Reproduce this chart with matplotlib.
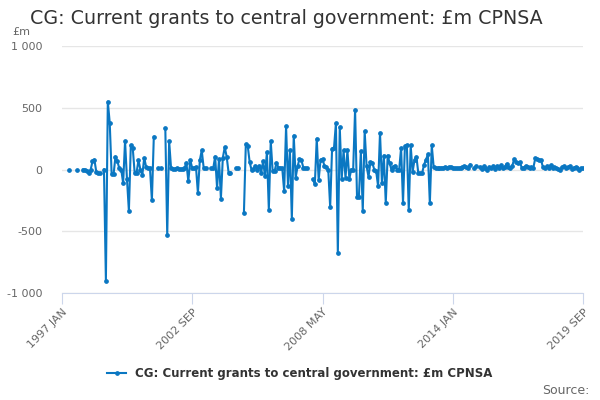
import numpy as np
import matplotlib
matplotlib.use("Agg")
import matplotlib.pyplot as plt
from matplotlib.lines import Line2D

nan = np.nan

# monthly values, 1997 JAN .. 2019 SEP (gaps are missing months)
values = [
    nan, nan, nan, nan, 0, nan, nan, nan, 0, nan,          # 1997
    nan, 0, 0, -10, -30, -5, 65, 80, -20, -25,
    -30, nan, 0, -900, 550, 380, -40, -40, 105, 65,
    10, 0, -110, 230, -80, -335, 195, 175, -25, -25,
    75, 0, -45, 95, 20, 15, 10, -250, 265, nan,
    10, nan, 10, nan, 335, -530, 230, 10, 5, 5,
    10, 5, 5, 5, 10, 55, -95, 75, 15, 10,
    20, -190, 75, 155, 15, 10, nan, nan, 10, 10,
    105, -150, 85, -235, 95, 180, 105, -25, -25, nan,
    nan, 10, 10, nan, nan, -355, 205, 190, 60, -5,
    5, 30, 0, 30, -25, 65, -50, 140, -325, 230,
    -15, -15, 55, 15, 15, 10, -175, 350, -130, 155,
    -400, 275, -65, 25, 85, 75, 15, 10, 10, nan,
    nan, -80, -120, 250, -85, 80, 85, 30, 20, 0,
    -305, 170, 175, 375, -680, 345, -80, 155, -70, 155,
    -75, 0, 0, 485, -220, -220, 148, -337, 310, 27,
    -60, 60, 54, 0, -14, -135, 297, -108, 113, -270,
    113, 54, -5, 22, 32, 0, 0, 175, -270, 190,
    197, -330, 195, -22, 80, 103, -32, -32, -27, 40,
    80, 122, -275, 195, 20, 15, 10, 12, 15, 15,
    18, 15, 20, 22, 15, 12, 10, 10, 15, 18,
    25, 20, 15, 40, nan, 10, 25, nan, 20, 5,
    25, 10, 0, 20, 10, 30, 5, 25, 15, 35,
    10, 20, 45, 20, 10, 30, 85, 60, 55, 60,
    10, 15, 30, 20, 10, 20, 15, 90, 85, 80,
    75, 20, 15, 25, 10, 35, 15, 20, 10, 5,
    0, 20, 25, 15, 20, 25, 5, 15, 20, 10,
    0, 10, 10,
]

tick_pos = [0, 68, 136, 204, 272]
tick_labels = ["1997 JAN", "2002 SEP", "2008 MAY", "2014 JAN", "2019 SEP"]
y_ticks = [-1000, -500, 0, 500, 1000]
y_labels = ["-1 000", "-500", "0", "500", "1 000"]

series_name = "CG: Current grants to central government: £m CPNSA"
blue = "#0a77c2"

fig = plt.figure(figsize=(6, 4), dpi=100)
ax = fig.add_axes([0.103, 0.2675, 0.869, 0.6175])

x = np.arange(len(values))
ax.plot(x, values, color=blue, lw=1.5, marker="o", ms=2.4, zorder=3)

ax.set_xlim(0, 272)
ax.set_ylim(-1000, 1000)
ax.set_yticks(y_ticks)
ax.set_yticklabels(y_labels)
ax.set_xticks(tick_pos)
ax.set_xticklabels(tick_labels, rotation=45, ha="right", rotation_mode="anchor")

ax.grid(axis="y", color="#e6e6e6", lw=1)
ax.set_axisbelow(True)
for s in ["top", "right", "left"]:
    ax.spines[s].set_visible(False)
ax.spines["bottom"].set_color("#ccd6eb")
ax.tick_params(axis="y", length=0, labelsize=8, labelcolor="#666666", pad=14)
ax.tick_params(axis="x", length=8, color="#ccd6eb", labelsize=8, labelcolor="#666666", pad=2)

fig.text(0.05, 0.955, series_name, fontsize=13.7, color="#333333", va="center")
fig.text(0.02, 0.92, "£m", fontsize=8, color="#666666", va="center")

handle = Line2D([], [], color=blue, lw=1.5, marker="o", ms=2.4)
fig.legend([handle], [series_name], loc="center", bbox_to_anchor=(0.5, 0.067),
           frameon=False, handlelength=1.6, prop={"size": 8.5, "weight": "bold"},
           labelcolor="#333333")
fig.text(0.982, 0.025, "Source:", fontsize=9, color="#666666", ha="right", va="center")

fig.savefig("out.png", dpi=100)
